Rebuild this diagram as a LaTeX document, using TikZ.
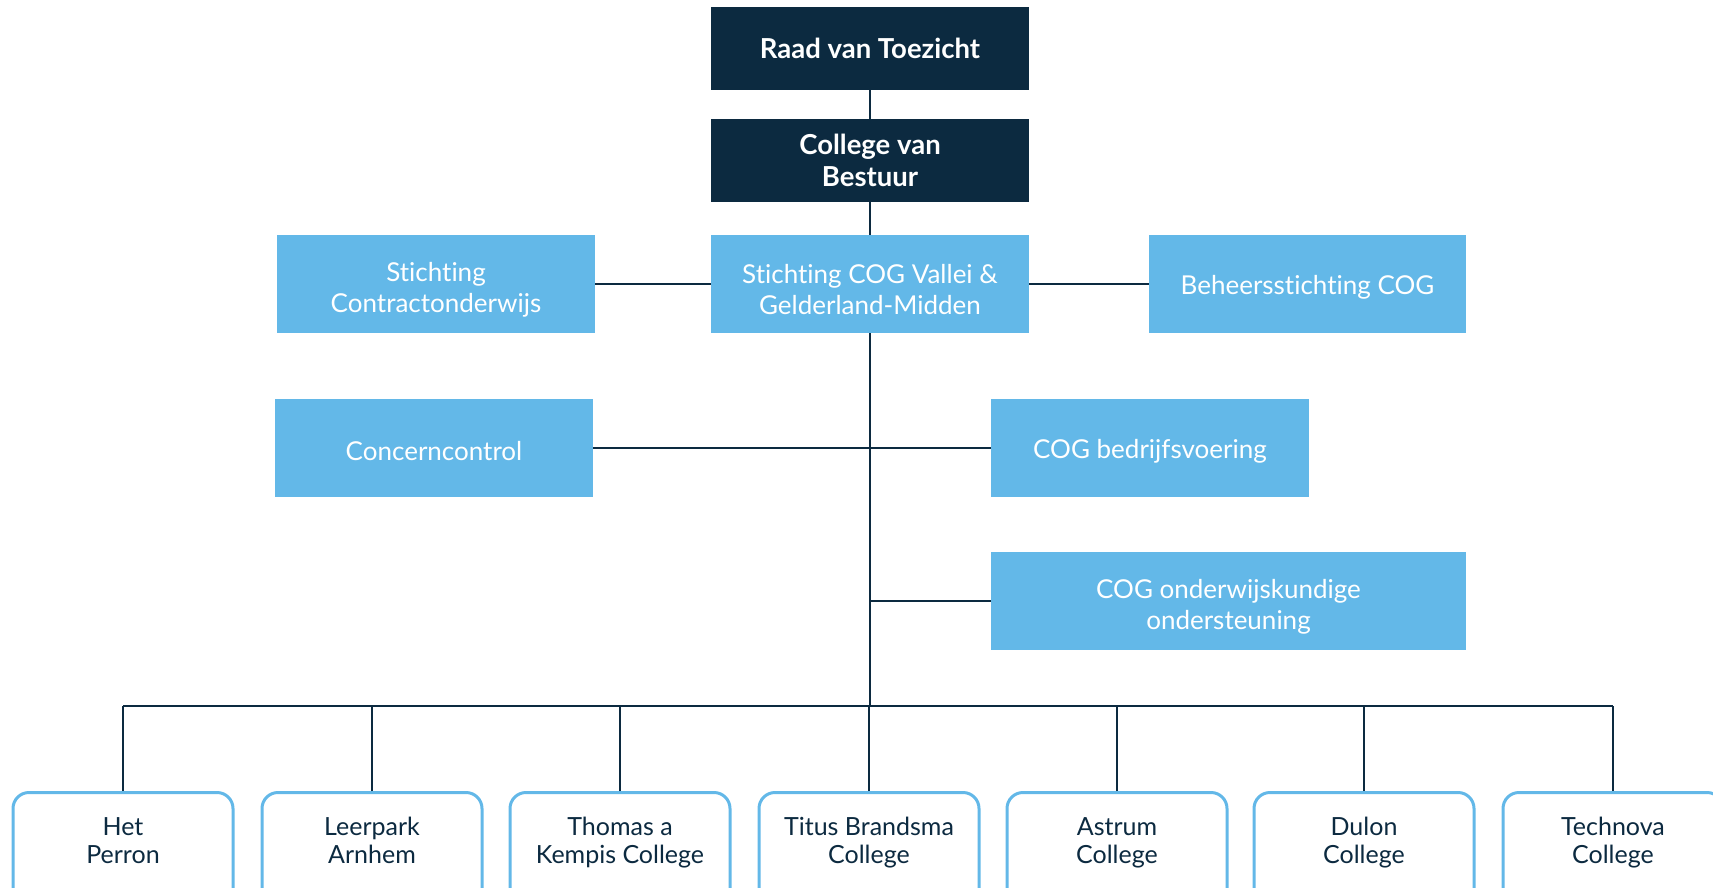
\documentclass[tikz,border=0pt]{standalone}
\usepackage{fontspec}
\setmainfont{Lato}[Ligatures=NoCommon]
\usepackage{tikz}
\usetikzlibrary{calc}

\definecolor{cognavy}{HTML}{0C2A40}
\definecolor{cogblue}{HTML}{63B8E8}

\begin{document}
\begin{tikzpicture}[x=1pt,y=-1pt]
    \newcommand{\unitheight}[0]{98pt}
    \newcommand{\unitwidth}[0]{318pt}
    \newcommand{\schoolwidth}[0]{220pt}
    \newcommand{\lift}[1]{\rule{0pt}{#1}}

    \tikzstyle{link} = [line width=2pt,draw=cognavy]

    \tikzstyle{board}=[
      rectangle,
      fill=cognavy,
      text=white,
      font=\fontsize{27.5}{32}\selectfont\bfseries,
      align=center,
      minimum height=83pt,
      minimum width=\unitwidth,
    ]
    \tikzstyle{unit}=[
      rectangle,
      fill=cogblue,
      text=white,
      font=\fontsize{26}{31}\selectfont,
      align=center,
      minimum height=\unitheight,
      minimum width=\unitwidth,
    ]
    \tikzstyle{school}=[
      rectangle,
      rounded corners=16pt,
      draw=cogblue,
      line width=3pt,
      fill=white,
      text=cognavy,
      font=\fontsize{25}{27.5}\selectfont,
      align=center,
      anchor=north,
      text depth=16pt,
      minimum height=112pt,
      minimum width=\schoolwidth,
    ]

    \useasboundingbox (0,0) rectangle (1713,888);

    \node[board] (toezicht) at (870, 48.5) {Raad van Toezicht};
    \node[board] (bestuur) at (870, 160.5) {College van\\Bestuur};

    \node[unit] (stichting) at (870, 284) {\lift{30pt}Stichting COG Vallei \&\\Gelderland-Midden};
    \node[unit] (contract) at (436, 284) {\lift{30pt}Stichting\\Contractonderwijs};
    \node[unit,minimum width=317pt] (beheer) at (1307.5, 284) {\lift{26pt}Beheersstichting COG};
    \node[unit] (control) at (434, 447.5) {\lift{26pt}Concerncontrol};
    \node[unit] (bedrijf) at (1150, 447.5) {\lift{26pt}COG bedrijfsvoering};
    \node[unit,minimum width=475pt] (onderwijs) at (1228.5, 601) {\lift{30pt}COG onderwijskundige\\ondersteuning};

    \coordinate (bus) at (870, 706);

    \node[school] (perron) at (123, 791) {Het\\Perron};
    \node[school] (leerpark) at (372, 791) {Leerpark\\Arnhem};
    \node[school] (kempis) at (620, 791) {Thomas a\\Kempis College};
    \node[school] (titus) at (869, 791) {Titus Brandsma\\College};
    \node[school] (astrum) at (1117, 791) {Astrum\\College};
    \node[school] (dulon) at (1364, 791) {Dulon\\College};
    \node[school] (technova) at (1613, 791) {Technova\\College};

    \draw[link] (toezicht) -- (bestuur);
    \draw[link] (bestuur) -- (stichting);
    \draw[link] (contract) -- (stichting);
    \draw[link] (stichting) -- (beheer);
    \draw[link] (stichting.south) -- (bus);
    \draw[link] (control) -- (bedrijf);
    \draw[link] (onderwijs.west) -- (stichting.south |- onderwijs.west);

    \draw[link] (perron.north |- bus) -- (technova.north |- bus);
    \foreach \school in {perron,leerpark,kempis,titus,astrum,dulon,technova}
      \draw[link] (\school.north) -- (\school.north |- bus);
  \end{tikzpicture}
\end{document}
